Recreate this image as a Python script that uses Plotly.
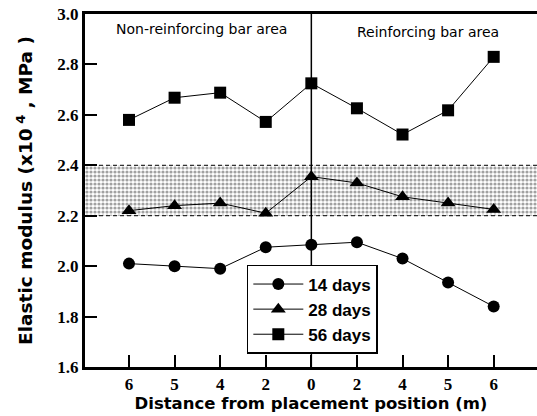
import plotly.graph_objects as go

positions = ["6", "5", "4", "2", "0", "2", "4", "5", "6"]
days14 = [2.01, 2.00, 1.99, 2.075, 2.085, 2.095, 2.03, 1.935, 1.84]
days28 = [2.22, 2.24, 2.25, 2.21, 2.355, 2.33, 2.275, 2.25, 2.225]
days56 = [2.58, 2.668, 2.688, 2.572, 2.725, 2.626, 2.522, 2.618, 2.83]
band = [2.2, 2.4]
divider_index = 4

idx = list(range(len(positions)))
xr = [-0.965, 8.95]

fig = go.Figure()

# shaded band
fig.add_trace(go.Scatter(
    x=[xr[0], xr[1], xr[1], xr[0]], y=[band[0], band[0], band[1], band[1]],
    fill="toself", mode="lines", line=dict(width=0),
    fillcolor="rgba(0,0,0,0)",
    fillpattern=dict(shape=".", fgcolor="#444444", bgcolor="white", size=4, solidity=0.5),
    showlegend=False, hoverinfo="skip"))
for b in band:
    fig.add_trace(go.Scatter(x=xr, y=[b, b], mode="lines",
                             line=dict(color="black", width=1, dash="4px,3px"),
                             showlegend=False, hoverinfo="skip"))

series = [("14 days", days14, "circle"), ("28 days", days28, "triangle-up"), ("56 days", days56, "square")]
for name, vals, sym in series:
    fig.add_trace(go.Scatter(
        x=idx, y=vals, mode="lines+markers", name=name,
        line=dict(color="black", width=1),
        marker=dict(symbol=sym, size=12 if sym != "triangle-up" else 13, color="black")))

fig.add_shape(type="line", x0=divider_index, x1=divider_index, y0=1.6, y1=3.0,
              xref="x", yref="y", line=dict(color="black", width=1.5))

fig.add_annotation(x=1.6, y=2.94, xref="x", yref="y", text="Non-reinforcing bar area",
                   showarrow=False, font=dict(family="DejaVu Sans", size=14, color="black"))
fig.add_annotation(x=6.56, y=2.93, xref="x", yref="y", text="Reinforcing bar area",
                   showarrow=False, font=dict(family="DejaVu Sans", size=14, color="black"))

tickfont = dict(family="Liberation Serif", size=17, color="black", weight="bold")
fig.update_xaxes(range=xr, tickvals=idx, ticktext=positions, showgrid=False, zeroline=False,
                 showline=True, linecolor="black", linewidth=3, mirror=True,
                 ticks="inside", ticklen=12, tickwidth=2, tickcolor="black", tickfont=tickfont,
                 title=dict(text="Distance from placement position (m)", standoff=5,
                            font=dict(family="DejaVu Sans", size=16.5, color="black", weight="bold")))
fig.update_yaxes(range=[1.6, 3.0], dtick=0.2, tickformat=".1f", showgrid=False, zeroline=False,
                 showline=True, linecolor="black", linewidth=3,
                 ticks="inside", ticklen=12, tickwidth=2, tickcolor="black", tickfont=tickfont,
                 title=dict(text="Elastic modulus (x10<sup> 4</sup> , MPa )", standoff=20,
                            font=dict(family="DejaVu Sans", size=18.5, color="black", weight="bold")))

fig.update_layout(
    width=537, height=416, margin=dict(l=85, r=0, t=14, b=49),
    paper_bgcolor="white", plot_bgcolor="white",
    legend=dict(x=0.358, y=0.289, xanchor="left", yanchor="top",
                bgcolor="white", bordercolor="black", borderwidth=1.5,
                font=dict(family="Arial", size=17, color="black", weight="bold"),
                itemwidth=50, tracegroupgap=0),
)

fig.write_html("out.html")
